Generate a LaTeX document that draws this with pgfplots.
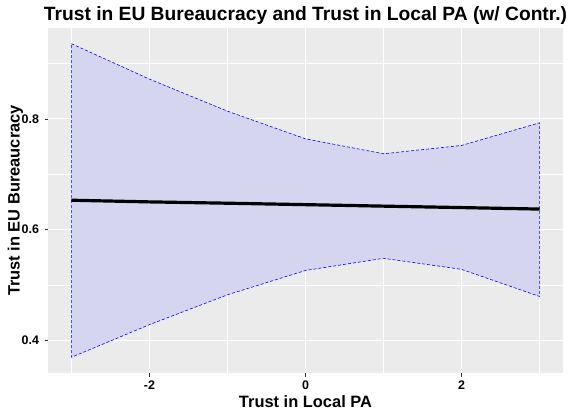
\documentclass[border=0pt]{standalone}
\usepackage{fontspec}
\setmainfont{Liberation Sans}
\usepackage{pgfplots}
\pgfplotsset{compat=1.18}
\definecolor{panelbg}{RGB}{235,235,235}
\definecolor{bandfill}{RGB}{213,213,240}
\definecolor{tickgray}{RGB}{51,51,51}
\begin{document}
\begin{tikzpicture}
\begin{axis}[
    at={(48bp,42bp)}, anchor=south west,
    width=515bp, height=345bp, scale only axis,
    xmin=-3.3, xmax=3.3, ymin=0.3406, ymax=0.9644,
    xtick={-2,0,2}, ytick={0.4,0.6,0.8},
    minor xtick={-3,-1,1,3}, minor ytick={0.5,0.7,0.9},
    yticklabel style={/pgf/number format/fixed, /pgf/number format/precision=1, xshift=-2bp},
    xticklabel style={yshift=-1bp},
    /pgf/number format/assume math mode=true,
    ticklabel style={font=\bfseries\fontsize{12.5}{14}\selectfont, text=black},
    grid=both,
    major grid style={white, line width=1.1bp},
    minor grid style={white, line width=0.5bp},
    tick align=outside, major tick length=3.5bp, minor tick length=0pt,
    tick style={tickgray, line width=0.5bp},
    axis line style={draw=none},
    axis background/.style={fill=panelbg},
    xtick pos=bottom, ytick pos=left,
    clip=false,
]
% confidence band
\addplot[draw=blue, line width=0.6bp, dash pattern=on 3bp off 2bp, fill=bandfill]
  coordinates {
    (-3,0.936) (-2,0.872) (-1,0.814) (0,0.764) (1,0.737) (2,0.752) (3,0.793)
    (3,0.479) (2,0.528) (1,0.548) (0,0.526) (-1,0.482) (-2,0.428) (-3,0.369)
  } -- cycle;
% fitted line
\addplot[black, line width=3.2bp] coordinates {
    (-3,0.653) (-2,0.650) (-1,0.6476) (0,0.645) (1,0.6423) (2,0.6397) (3,0.637)
  };
\end{axis}
\node[font=\bfseries\fontsize{19.3}{22}\selectfont, anchor=base] at (305.5bp,394bp)
  {Trust in EU Bureaucracy and Trust in Local PA (w/ Contr.)};
\node[font=\bfseries\fontsize{16.5}{19}\selectfont, anchor=base] at (305.5bp,7.7bp)
  {Trust in Local PA};
\node[font=\bfseries\fontsize{16.5}{19}\selectfont, anchor=base, rotate=90] at (19.5bp,214.5bp)
  {Trust in EU Bureaucracy};
\pgfresetboundingbox
\path (0,0) rectangle (571bp,415bp);
\end{tikzpicture}
\end{document}
